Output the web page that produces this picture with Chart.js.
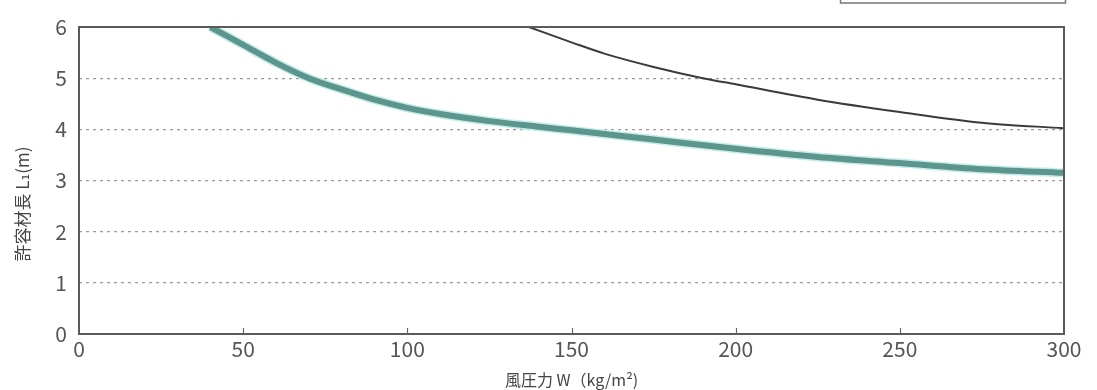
<!DOCTYPE html>
<html>
<head>
<meta charset="utf-8">
<script src="https://cdn.jsdelivr.net/npm/chart.js@4/dist/chart.umd.min.js"></script>
<style>
  html, body { margin: 0; padding: 0; background: #fff; }
  #wrap { width: 1097px; height: 390px; position: relative; }
</style>
</head>
<body>
<div id="wrap"><canvas id="c" width="1097" height="390"></canvas></div>
<script>
// Wind pressure W (kg/m²) and allowable member length L1 (m)
const thickW = [40, 50, 60, 70, 80, 90, 100, 110, 125, 140, 150, 175, 200, 225, 250, 275, 300];
const thickL = [6.0, 5.65, 5.3, 5.0, 4.78, 4.58, 4.42, 4.3, 4.16, 4.05, 3.98, 3.8, 3.62, 3.46, 3.34, 3.22, 3.15];
const thinW = [137, 150, 160, 175, 190, 200, 225, 250, 275, 300];
const thinL = [6.0, 5.7, 5.48, 5.22, 5.0, 4.88, 4.58, 4.34, 4.13, 4.02];
const xTicks = [0, 50, 100, 150, 200, 250, 300];
const yTicks = [0, 1, 2, 3, 4, 5, 6];
const xTitle = '風圧力 W（kg/m²)';
const yTitle = '許容材長 L₁(m)';

const pts = (xs, ys) => xs.map((x, i) => ({ x: x, y: ys[i] }));
const FONT = '"Noto Sans CJK JP", "DejaVu Sans", sans-serif';

const framePlugin = {
  id: 'frame',
  afterDraw(chart) {
    const { ctx, chartArea: a, scales } = chart;
    ctx.save();
    // plot frame
    ctx.strokeStyle = '#5a5a5a';
    ctx.lineWidth = 2;
    ctx.strokeRect(a.left, a.top, a.right - a.left, a.bottom - a.top);
    // short inward ticks on the x axis
    ctx.lineWidth = 1.2;
    ctx.strokeStyle = '#666';
    xTicks.slice(1, -1).forEach(v => {
      const px = Math.round(scales.x.getPixelForValue(v)) + 0.5;
      ctx.beginPath();
      ctx.moveTo(px, a.bottom);
      ctx.lineTo(px, a.bottom - 6);
      ctx.stroke();
    });
    // legend box edge at the top
    ctx.strokeStyle = '#777';
    ctx.lineWidth = 1.5;
    ctx.strokeRect(840.5, -10, 225, 13);
    // y axis title
    ctx.fillStyle = '#444';
    ctx.font = '17px ' + FONT;
    ctx.translate(23, 204);
    ctx.rotate(-Math.PI / 2);
    ctx.textAlign = 'center';
    ctx.textBaseline = 'middle';
    ctx.fillText(yTitle, 0, 0);
    ctx.restore();
  }
};

new Chart(document.getElementById('c'), {
  type: 'line',
  data: {
    datasets: [
      { data: pts(thickW, thickL), borderColor: '#c6ecea', borderWidth: 9, pointRadius: 0, cubicInterpolationMode: 'monotone', order: 3 },
      { data: pts(thickW, thickL), borderColor: '#5c958b', borderWidth: 6, pointRadius: 0, cubicInterpolationMode: 'monotone', order: 2 },
      { data: pts(thinW, thinL), borderColor: '#3a3a3a', borderWidth: 2, pointRadius: 0, cubicInterpolationMode: 'monotone', order: 1 }
    ]
  },
  options: {
    responsive: false,
    animation: false,
    devicePixelRatio: 1,
    layout: { padding: { top: 27, right: 33, left: 0, bottom: 0 } },
    plugins: { legend: { display: false }, tooltip: { enabled: false } },
    scales: {
      x: {
        type: 'linear', min: 0, max: 300,
        afterBuildTicks: s => { s.ticks = xTicks.map(v => ({ value: v })); },
        afterFit: s => { s.height = 56; },
        grid: { display: false },
        border: { display: false },
        ticks: { color: '#555', font: { family: FONT, size: 21 }, padding: -6, maxRotation: 0 },
        title: { display: true, text: xTitle, color: '#444', font: { family: FONT, size: 16 }, padding: { top: 0, bottom: 0 } }
      },
      y: {
        type: 'linear', min: 0, max: 6,
        afterBuildTicks: s => { s.ticks = yTicks.map(v => ({ value: v })); },
        afterFit: s => { s.width = 79; },
        grid: {
          drawTicks: false,
          color: c => (c.tick.value === 0 || c.tick.value === 6) ? 'rgba(0,0,0,0)' : '#9a9a9a',
          lineWidth: 1.3
        },
        border: { display: false, dash: [3, 4] },
        ticks: { color: '#555', font: { family: FONT, size: 21 }, padding: 12 }
      }
    }
  },
  plugins: [framePlugin]
});
</script>
</body>
</html>
